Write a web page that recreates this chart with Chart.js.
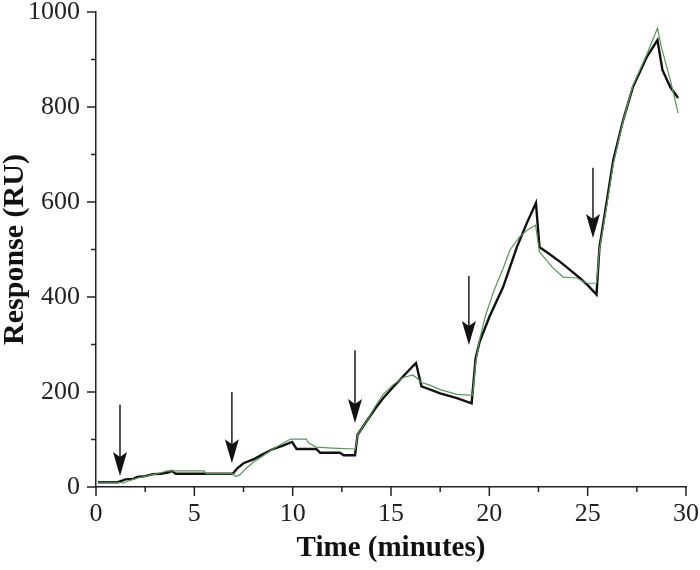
<!DOCTYPE html>
<html>
<head>
<meta charset="utf-8">
<script src="https://cdn.jsdelivr.net/npm/chart.js@4/dist/chart.umd.min.js"></script>
<style>
html,body{margin:0;padding:0;background:#fff;}
canvas{display:block;}
</style>
</head>
<body>
<canvas id="c" width="700" height="570"></canvas>
<script>
// Black trace (time in minutes, response in RU)
const blackTime = [0.1,1.1,1.3,1.5,1.9,2.1,2.5,2.9,3.3,3.7,3.85,4.05,5.0,6.0,6.95,7.2,7.5,8.0,8.4,9.0,9.5,9.97,10.2,11.2,11.4,12.4,12.6,13.17,13.3,13.8,14.2,14.6,15.1,15.6,16.1,16.27,16.55,17.0,17.5,18.35,19.1,19.3,19.5,20.0,20.7,21.4,21.9,22.37,22.55,23.0,23.6,24.1,24.6,25.0,25.45,25.6,25.98,26.3,26.8,27.3,28.0,28.55,28.8,29.2,29.6];
const blackResp = [10,10,13,16,17,21,23,27,28,31,34,28,28,28,28,40,50,58,67,80,87,95,80,80,72,72,67,67,110,141,165,187,210,232,254,261,212,205,197,187,176,270,305,358,421,505,555,598,505,492,474,457,440,425,405,505,604,688,772,842,905,941,878,842,819];
// Green trace
const greenTime = [0.1,1.2,1.4,1.6,1.9,2.2,2.6,3.0,3.4,3.6,4.5,5.5,5.6,6.95,7.1,7.3,7.6,8.0,8.5,9.0,9.5,9.9,10.7,10.8,11.2,12.0,13.2,13.3,13.8,14.2,14.6,15.1,15.6,16.1,16.3,16.55,17.0,17.5,18.35,19.15,19.3,19.5,19.8,20.2,20.7,21.05,21.5,21.9,22.35,22.55,23.2,23.75,24.45,24.96,25.45,25.6,26.0,26.3,26.8,27.3,28.0,28.55,28.75,29.2,29.6];
const greenResp = [10,10,8,12,16,20,23,27,31,34,34,34,28,28,22,25,38,52,66,80,92,101,101,93,84,82,80,110,141,170,195,215,230,236,230,220,214,205,195,193,260,310,360,410,460,499,525,540,551,495,463,442,440,429,429,500,600,680,770,845,910,966,926,857,787];
// Injection arrows: x position, top of shaft and tip (in RU)
const arrowX   = [1.22, 6.91, 13.17, 18.96, 25.27];
const arrowTop = [173, 200, 288, 444, 672];
const arrowTip = [23, 50, 135, 299, 524];
// Axis ticks
const xMajorTicks = [0,5,10,15,20,25,30];
const yMajorTicks = [0,200,400,600,800,1000];

const FONT = "'Liberation Serif','Times New Roman',serif";
const toPts = (xs, ys) => xs.map((x, i) => ({x: x, y: ys[i]}));

const tickPlugin = {
  id: 'ticksAndArrows',
  afterDatasetsDraw(chart) {
    const ctx = chart.ctx;
    const xs = chart.scales.x, ys = chart.scales.y;
    ctx.save();
    ctx.strokeStyle = '#1a1a1a';
    ctx.fillStyle = '#111';
    for (let i = 0; i < arrowX.length; i++) {
      const px = xs.getPixelForValue(arrowX[i]);
      const pt = ys.getPixelForValue(arrowTop[i]);
      const pb = ys.getPixelForValue(arrowTip[i]);
      ctx.lineWidth = 1.5;
      ctx.beginPath();
      ctx.moveTo(px, pt);
      ctx.lineTo(px, pb - 12);
      ctx.stroke();
      ctx.beginPath();
      ctx.moveTo(px, pb);
      ctx.lineTo(px - 7, pb - 24);
      ctx.lineTo(px, pb - 19);
      ctx.lineTo(px + 7, pb - 24);
      ctx.closePath();
      ctx.fill();
    }
    ctx.restore();
  },
  afterDraw(chart) {
    const ctx = chart.ctx;
    const xs = chart.scales.x, ys = chart.scales.y;
    const ca = chart.chartArea;
    ctx.save();
    ctx.strokeStyle = '#222';
    ctx.lineWidth = 1.5;
    xs.ticks.forEach(t => {
      const p = xs.getPixelForValue(t.value);
      const len = xMajorTicks.includes(t.value) ? 9 : 5;
      ctx.beginPath(); ctx.moveTo(p, ca.bottom); ctx.lineTo(p, ca.bottom + len); ctx.stroke();
    });
    ys.ticks.forEach(t => {
      const p = ys.getPixelForValue(t.value);
      const len = yMajorTicks.includes(t.value) ? 9 : 5;
      ctx.beginPath(); ctx.moveTo(ca.left, p); ctx.lineTo(ca.left - len, p); ctx.stroke();
    });
    ctx.restore();
  }
};

new Chart(document.getElementById('c'), {
  type: 'line',
  data: {
    datasets: [
      {
        data: toPts(greenTime, greenResp),
        borderColor: '#5e925e',
        borderWidth: 1.2,
        pointRadius: 0,
        tension: 0,
        fill: false
      },
      {
        data: toPts(blackTime, blackResp),
        borderColor: '#111111',
        borderWidth: 2.4,
        pointRadius: 0,
        tension: 0,
        fill: false
      }
    ]
  },
  options: {
    responsive: false,
    animation: false,
    events: [],
    layout: { padding: { top: 12, right: 14, left: 0, bottom: 0 } },
    plugins: { legend: { display: false }, tooltip: { enabled: false } },
    scales: {
      x: {
        type: 'linear',
        min: 0, max: 30,
        afterFit: s => { s.height = 83; s.paddingLeft = 0; s.paddingRight = 0; },
        border: { display: true, color: '#222', width: 1.5 },
        grid: { display: true, drawOnChartArea: false, drawTicks: false },
        ticks: {
          stepSize: 2.5,
          autoSkip: false,
          maxRotation: 0,
          padding: 12,
          color: '#222',
          font: { family: FONT, size: 26 },
          callback: v => (xMajorTicks.includes(v) ? String(v) : '')
        },
        title: {
          display: true,
          text: 'Time (minutes)',
          color: '#111',
          font: { family: FONT, size: 29, weight: 'bold' },
          padding: { top: 0, bottom: 4 }
        }
      },
      y: {
        type: 'linear',
        min: 0, max: 1000,
        afterFit: s => { s.width = 96; s.paddingTop = 0; s.paddingBottom = 0; },
        border: { display: true, color: '#222', width: 1.5 },
        grid: { display: true, drawOnChartArea: false, drawTicks: false },
        ticks: {
          stepSize: 100,
          autoSkip: false,
          padding: 16,
          color: '#222',
          font: { family: FONT, size: 26 },
          callback: v => (yMajorTicks.includes(v) ? String(v) : '')
        },
        title: {
          display: true,
          text: 'Response (RU)',
          color: '#111',
          font: { family: FONT, size: 30, weight: 'bold', lineHeight: 1.0 },
          padding: { top: 0, bottom: 0 }
        }
      }
    }
  },
  plugins: [tickPlugin]
});
</script>
</body>
</html>
